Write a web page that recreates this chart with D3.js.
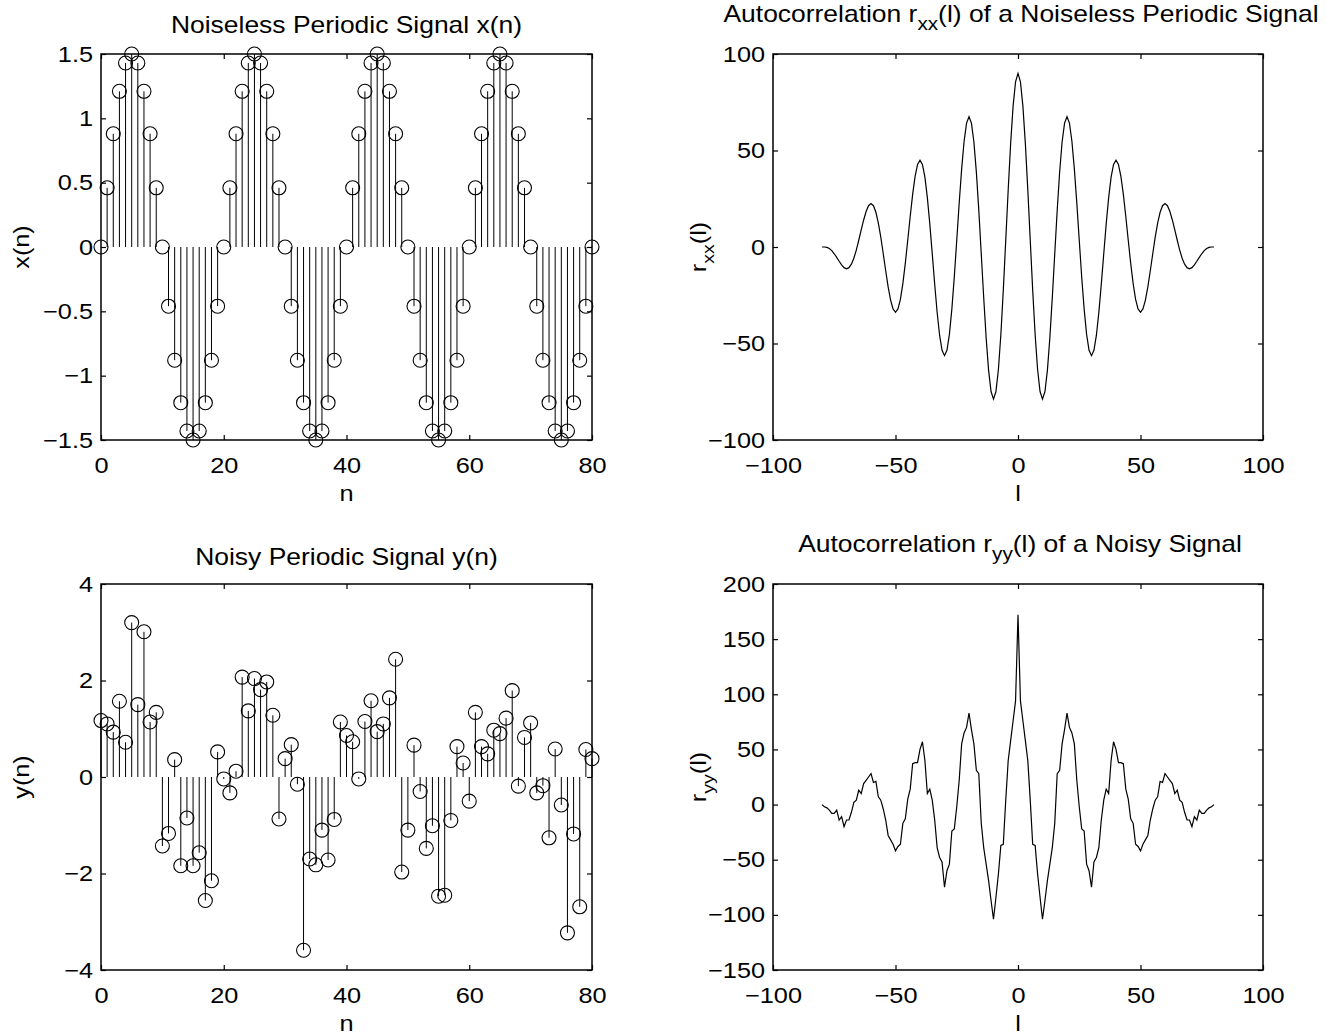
<!DOCTYPE html>
<html>
<head>
<meta charset="utf-8">
<script src="https://d3js.org/d3.v7.min.js"></script>
<style>
body { margin: 0; background: #fff; }
svg { display: block; }
text { font-family: "Liberation Sans", Arial, Helvetica, sans-serif; fill: #000; }
</style>
</head>
<body>
<script>
// sample index and lag index
const n = d3.range(0, 81)
const lags = d3.range(-80, 81)

// noiseless periodic signal x(n)
const xn = [
  0, 0.46, 0.88, 1.21, 1.43, 1.5, 1.43, 1.21, 0.88, 0.46,
  0, -0.46, -0.88, -1.21, -1.43, -1.5, -1.43, -1.21, -0.88, -0.46,
  0, 0.46, 0.88, 1.21, 1.43, 1.5, 1.43, 1.21, 0.88, 0.46,
  0, -0.46, -0.88, -1.21, -1.43, -1.5, -1.43, -1.21, -0.88, -0.46,
  0, 0.46, 0.88, 1.21, 1.43, 1.5, 1.43, 1.21, 0.88, 0.46,
  0, -0.46, -0.88, -1.21, -1.43, -1.5, -1.43, -1.21, -0.88, -0.46,
  0, 0.46, 0.88, 1.21, 1.43, 1.5, 1.43, 1.21, 0.88, 0.46,
  0, -0.46, -0.88, -1.21, -1.43, -1.5, -1.43, -1.21, -0.88, -0.46,
  0
]

// noisy periodic signal y(n)
const yn = [
  1.17, 1.10, 0.93, 1.57, 0.72, 3.20, 1.50, 3.01, 1.14, 1.34,
  -1.43, -1.17, 0.36, -1.84, -0.85, -1.84, -1.57, -2.56, -2.15, 0.52,
  -0.04, -0.33, 0.12, 2.07, 1.37, 2.04, 1.81, 1.97, 1.28, -0.87,
  0.38, 0.67, -0.15, -3.59, -1.70, -1.82, -1.10, -1.72, -0.88, 1.14,
  0.86, 0.73, -0.04, 1.15, 1.58, 0.94, 1.10, 1.64, 2.44, -1.97,
  -1.10, 0.66, -0.30, -1.48, -1.01, -2.47, -2.45, -0.90, 0.63, 0.29,
  -0.50, 1.34, 0.63, 0.48, 0.97, 0.90, 1.22, 1.79, -0.19, 0.82,
  1.12, -0.33, -0.18, -1.26, 0.58, -0.58, -3.23, -1.18, -2.69, 0.57,
  0.38
]

// autocorrelation rxx(l), l = -80..80
const rxx = [
  0.0, 0.0, -0.2, -0.8, -1.9, -3.5, -5.4, -7.4, -9.3, -10.7,
  -11.3, -10.7, -8.9, -5.8, -1.6, 3.5, 8.9, 14.0, 18.4, 21.4,
  22.5, 21.4, 18.0, 12.4, 5.1, -3.5, -12.3, -20.7, -27.5, -32.1,
  -33.8, -32.1, -27.1, -19.0, -8.5, 3.5, 15.8, 27.3, 36.6, 42.8,
  45.0, 42.8, 36.2, 25.6, 12.0, -3.5, -19.3, -33.9, -45.7, -53.5,
  -56.3, -53.5, -45.3, -32.2, -15.5, 3.5, 22.8, 40.5, 54.8, 64.2,
  67.5, 64.2, 54.4, 38.9, 19.0, -3.5, -26.2, -47.1, -63.9, -74.9,
  -78.8, -74.9, -63.5, -45.5, -22.4, 3.5, 29.7, 53.7, 73.0, 85.6,
  90.0,
  85.6, 73.0, 53.7, 29.7, 3.5, -22.4, -45.5, -63.5, -74.9, -78.8,
  -74.9, -63.9, -47.1, -26.2, -3.5, 19.0, 38.9, 54.4, 64.2, 67.5,
  64.2, 54.8, 40.5, 22.8, 3.5, -15.5, -32.2, -45.3, -53.5, -56.3,
  -53.5, -45.7, -33.9, -19.3, -3.5, 12.0, 25.6, 36.2, 42.8, 45.0,
  42.8, 36.6, 27.3, 15.8, 3.5, -8.5, -19.0, -27.1, -32.1, -33.8,
  -32.1, -27.5, -20.7, -12.3, -3.5, 5.1, 12.4, 18.0, 21.4, 22.5,
  21.4, 18.4, 14.0, 8.9, 3.5, -1.6, -5.8, -8.9, -10.7, -11.3,
  -10.7, -9.3, -7.4, -5.4, -3.5, -1.9, -0.8, -0.2, 0.0, 0.0
]

// autocorrelation ryy(l), l = -80..80
const ryy = [
  0, -2, -3, -5, -8, -8, -5, -14, -11, -20,
  -14, -14, -7, 2, 4, 13, 10, 19, 22, 25,
  28, 20, 21, 7, 4, -4, -14, -28, -32, -36,
  -42, -38, -36, -17, -13, 5, 14, 37, 38, 38,
  50, 57, 40, 10, 14, 4, -14, -39, -48, -52,
  -75, -60, -54, -24, -22, -2, 22, 55, 65, 70,
  83, 68, 55, 31, 28, -17, -39, -54, -69, -87,
  -104, -84, -63, -37, -36, 4, 40, 58, 76, 94,
  172,
  94, 76, 58, 40, 4, -36, -37, -63, -84, -104,
  -87, -69, -54, -39, -17, 28, 31, 55, 68, 83,
  70, 65, 55, 22, -2, -22, -24, -54, -60, -75,
  -52, -48, -39, -14, 4, 14, 10, 40, 57, 50,
  38, 38, 37, 14, 5, -13, -17, -36, -38, -42,
  -36, -32, -28, -14, -4, 4, 7, 21, 20, 28,
  25, 22, 19, 10, 13, 4, 2, -7, -14, -14,
  -20, -11, -14, -5, -8, -8, -5, -3, -2, 0
]

// tick values
const nTicks = [0, 20, 40, 60, 80]
const lagTicks = [-100, -50, 0, 50, 100]
const xnTicks = [-1.5, -1, -0.5, 0, 0.5, 1, 1.5]
const ynTicks = [-4, -2, 0, 2, 4]
const rxxTicks = [-100, -50, 0, 50, 100]
const ryyTicks = [-150, -100, -50, 0, 50, 100, 150, 200]

const W = 1326, H = 1036
const FS = 22      // font size
const TFS = 23     // title font size
const SX = 1.15    // the reference type is a little wide
const fmt = d3.format('~g')

const svg = d3.select('body').append('svg')
    .attr('width', W)
    .attr('height', H)

// one subplot: scales, axes with inner ticks on all four sides, box
function panel(box, xDomain, yDomain, xTicks, yTicks) {
    const x = d3.scaleLinear().domain(xDomain).range([box.left, box.right])
    const y = d3.scaleLinear().domain(yDomain).range([box.bottom, box.top])
    const g = svg.append('g')

    g.append('g')
        .attr('transform', 'translate(0,' + box.bottom + ')')
        .call(d3.axisBottom(x).tickValues(xTicks).tickFormat(fmt)
            .tickSizeInner(-5).tickSizeOuter(0).tickPadding(17))
    g.append('g')
        .attr('transform', 'translate(' + box.left + ',0)')
        .call(d3.axisLeft(y).tickValues(yTicks).tickFormat(fmt)
            .tickSizeInner(-5).tickSizeOuter(0).tickPadding(8 / SX))
    g.append('g')
        .attr('transform', 'translate(0,' + box.top + ')')
        .call(d3.axisTop(x).tickValues(xTicks).tickFormat('')
            .tickSizeInner(-5).tickSizeOuter(0))
    g.append('g')
        .attr('transform', 'translate(' + box.right + ',0)')
        .call(d3.axisRight(y).tickValues(yTicks).tickFormat('')
            .tickSizeInner(-5).tickSizeOuter(0))

    g.selectAll('.domain').remove()
    g.selectAll('.tick line').attr('stroke', '#000').attr('stroke-width', 1.2)
    g.selectAll('.tick text')
        .attr('font-size', FS)
        .attr('font-family', '"Liberation Sans", Arial, sans-serif')
        .attr('fill', '#000')
        .attr('transform', 'scale(' + SX + ',1)')

    g.append('rect')
        .attr('x', box.left).attr('y', box.top)
        .attr('width', box.right - box.left)
        .attr('height', box.bottom - box.top)
        .attr('fill', 'none')
        .attr('stroke', '#000')
        .attr('stroke-width', 1.5)

    return {x: x, y: y, g: g}
}

// stem plot: vertical lines from zero and hollow circles
function stems(p, idx, vals) {
    const pts = idx.map((d, i) => ({k: d, v: vals[i]}))
    p.g.selectAll('.stem').data(pts).enter()
        .append('line')
            .attr('x1', d => p.x(d.k)).attr('x2', d => p.x(d.k))
            .attr('y1', p.y(0)).attr('y2', d => p.y(d.v))
            .attr('stroke', '#000').attr('stroke-width', 1)
    p.g.selectAll('.dot').data(pts).enter()
        .append('circle')
            .attr('cx', d => p.x(d.k))
            .attr('cy', d => p.y(d.v))
            .attr('r', 7)
            .attr('fill', 'none')
            .attr('stroke', '#000')
            .attr('stroke-width', 1.1)
}

function curve(p, idx, vals) {
    const line = d3.line()
        .x((d, i) => p.x(idx[i]))
        .y(d => p.y(d))
    p.g.append('path')
        .datum(vals)
        .attr('d', line)
        .attr('fill', 'none')
        .attr('stroke', '#000')
        .attr('stroke-width', 1.2)
}

// text with optional subscript: parts = [[text, isSub], ...]
function label(px, py, rot, size, parts) {
    const t = svg.append('text')
        .attr('transform', 'translate(' + px + ',' + py + ')' + (rot ? ' rotate(-90)' : '') + ' scale(' + SX + ',1)')
        .attr('text-anchor', 'middle')
        .attr('font-size', size)
    let shifted = false
    parts.forEach(pt => {
        const s = t.append('tspan').text(pt[0])
        if (pt[1] && !shifted) { s.attr('dy', 8).attr('font-size', size - 5); shifted = true }
        else if (!pt[1] && shifted) { s.attr('dy', -8); shifted = false }
    })
    return t
}

const TL = {left: 101, right: 592, top: 54, bottom: 440}
const TR = {left: 773, right: 1263, top: 54, bottom: 440}
const BL = {left: 101, right: 592, top: 584, bottom: 970}
const BR = {left: 773, right: 1263, top: 584, bottom: 970}

const p1 = panel(TL, [0, 80], [-1.5, 1.5], nTicks, xnTicks)
stems(p1, n, xn)
const p2 = panel(TR, [-100, 100], [-100, 100], lagTicks, rxxTicks)
curve(p2, lags, rxx)
const p3 = panel(BL, [0, 80], [-4, 4], nTicks, ynTicks)
stems(p3, n, yn)
const p4 = panel(BR, [-100, 100], [-150, 200], lagTicks, ryyTicks)
curve(p4, lags, ryy)

// titles
label(346.5, 33, false, TFS, [['Noiseless Periodic Signal x(n)']])
label(1021, 22, false, TFS, [['Autocorrelation r'], ['xx', true], ['(l) of a Noiseless Periodic Signal']])
label(346.5, 565, false, TFS, [['Noisy Periodic Signal y(n)']])
label(1020, 552, false, TFS, [['Autocorrelation r'], ['yy', true], ['(l) of a Noisy Signal']])

// axis labels
label(346.5, 501, false, FS, [['n']])
label(1018, 501, false, FS, [['l']])
label(346.5, 1031, false, FS, [['n']])
label(1018, 1031, false, FS, [['l']])
label(29, 247, true, FS, [['x(n)']])
label(706, 247, true, FS, [['r'], ['xx', true], ['(l)']])
label(29, 777, true, FS, [['y(n)']])
label(706, 777, true, FS, [['r'], ['yy', true], ['(l)']])
</script>
</body>
</html>
